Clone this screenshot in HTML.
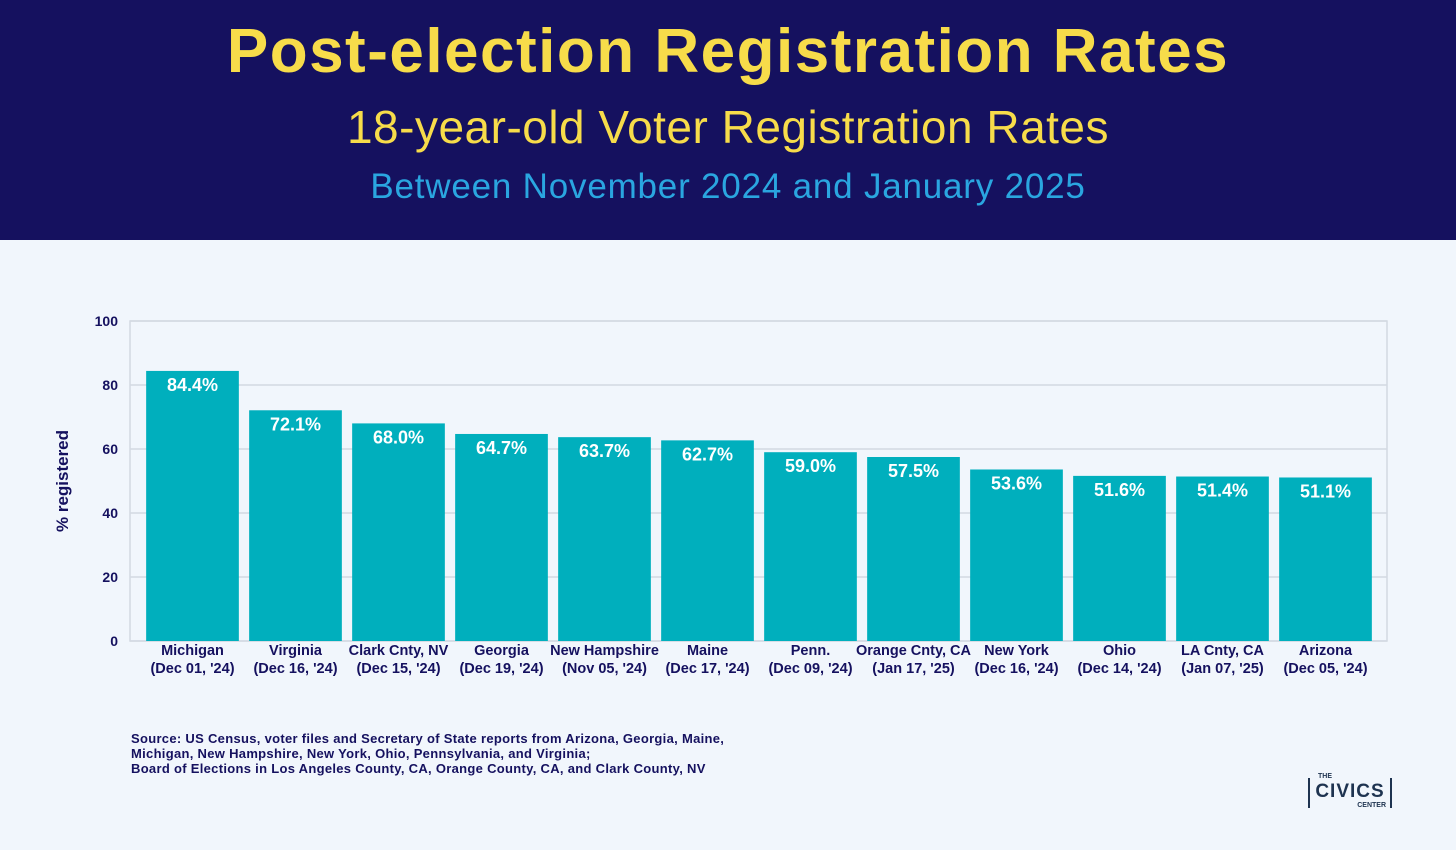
<!DOCTYPE html>
<html><head><meta charset="utf-8">
<style>
body{margin:0;width:1456px;height:850px;background:#f1f6fc;font-family:"Liberation Sans",sans-serif;overflow:hidden;position:relative}
#hdr{position:absolute;left:0;top:0;width:1456px;height:240px;background:#15115f}
.t{position:absolute;left:0;width:1456px;text-align:center}
#src{position:absolute;left:131px;top:731px;font-size:13px;font-weight:bold;color:#15115f;line-height:15px;letter-spacing:0.3px}
#logo{position:absolute;left:1308px;top:778px;width:84px;height:30px;border:2px solid #1e3350;border-top:none;border-bottom:none;box-sizing:border-box}
</style></head><body>
<div id="hdr">
<div class="t" style="top:16px;font-size:62px;font-weight:bold;color:#f7dc4a;letter-spacing:1.5px">Post-election Registration Rates</div>
<div class="t" style="top:100px;font-size:46px;color:#f7dc4a;letter-spacing:0.5px">18-year-old Voter Registration Rates</div>
<div class="t" style="top:167px;font-size:35px;color:#2aa6e0;letter-spacing:0.8px">Between November 2024 and January 2025</div>
</div>
<svg id="chart" width="1456" height="850" style="position:absolute;left:0;top:0"></svg>
<div id="src">Source: US Census, voter files and Secretary of State reports from Arizona, Georgia, Maine,<br>Michigan, New Hampshire, New York, Ohio, Pennsylvania, and Virginia;<br>Board of Elections in Los Angeles County, CA, Orange County, CA, and Clark County, NV</div>
<div id="logo">
<div style="position:absolute;left:6px;top:-5px;font-size:7px;font-weight:bold;color:#1e3350;background:#f1f6fc;padding:0 2px">THE</div>
<div style="position:absolute;left:0;width:80px;text-align:center;top:3px;font-size:19px;font-weight:bold;color:#1e3350;letter-spacing:1px">CIVICS</div>
<div style="position:absolute;right:2px;top:24px;font-size:7px;font-weight:bold;color:#1e3350;background:#f1f6fc;padding:0 2px">CENTER</div>
</div>
<script>
const categories=["Michigan","Virginia","Clark Cnty, NV","Georgia","New Hampshire","Maine","Penn.","Orange Cnty, CA","New York","Ohio","LA Cnty, CA","Arizona"];
const dates=["(Dec 01, '24)","(Dec 16, '24)","(Dec 15, '24)","(Dec 19, '24)","(Nov 05, '24)","(Dec 17, '24)","(Dec 09, '24)","(Jan 17, '25)","(Dec 16, '24)","(Dec 14, '24)","(Jan 07, '25)","(Dec 05, '24)"];
const values=[84.4,72.1,68.0,64.7,63.7,62.7,59.0,57.5,53.6,51.6,51.4,51.1];
const ticks=[0,20,40,60,80,100];
const svg=document.getElementById('chart'),NS='http://www.w3.org/2000/svg';
const X0=130,X1=1387,Y0=641,Y1=321,B0=141,B1=1377;
const bw=(B1-B0)/categories.length;
const y=v=>Y0-(v-0)/(100-0)*(Y0-Y1);
const x=i=>B0+i*bw;
function mk(t,a,txt){const e=document.createElementNS(NS,t);for(const k in a)e.setAttribute(k,a[k]);if(txt!=null)e.textContent=txt;svg.appendChild(e);return e;}
ticks.forEach(t=>{
const g=mk('line',{x1:X0,x2:X1,y1:y(t),y2:y(t),stroke:'#d3d9e2','stroke-width':1.5});


const l=mk('text',{x:118,y:y(t)+5,'text-anchor':'end','font-size':14,'font-weight':'bold',fill:'#15115f','font-family':'Liberation Sans'},t);


});
const fr=mk('rect',{x:X0,y:Y1,width:X1-X0,height:Y0-Y1,fill:'none',stroke:'#d3d9e2','stroke-width':1.5});


const yt=mk('text',{transform:'translate(68,481) rotate(-90)','text-anchor':'middle','font-size':17,'font-weight':'bold',fill:'#15115f','font-family':'Liberation Sans'},'% registered');


values.forEach((v,i)=>{
const w=bw*0.9,bx=x(i)+(bw-w)/2,cx=bx+w/2;
const r=mk('rect',{x:bx,y:y(v),width:w,height:Y0-y(v),fill:'#00afbd'});


const t=mk('text',{x:cx,y:y(v)+20,'text-anchor':'middle','font-size':18,'font-weight':'bold',fill:'#fff','font-family':'Liberation Sans'},v.toFixed(1)+'%');


const c=mk('text',{x:cx,y:655,'text-anchor':'middle','font-size':14.5,'font-weight':'bold',fill:'#15115f','font-family':'Liberation Sans'},categories[i]);


const d=mk('text',{x:cx,y:673,'text-anchor':'middle','font-size':14.5,'font-weight':'bold',fill:'#15115f','font-family':'Liberation Sans'},dates[i]);


});
</script>
</body></html>
